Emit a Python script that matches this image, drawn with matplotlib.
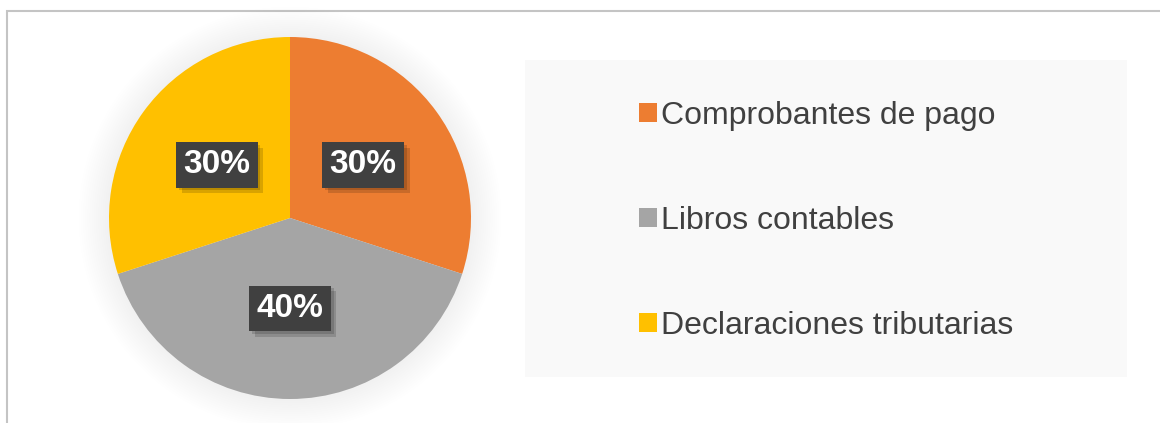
import matplotlib.pyplot as plt
import matplotlib.patheffects as pe
from matplotlib.patches import Circle, Rectangle

categories = ["Comprobantes de pago", "Libros contables", "Declaraciones tributarias"]
shares = [30, 40, 30]
colors = ["#ED7D31", "#A5A5A5", "#FFC000"]

W, H = 1160, 423
plt.rcParams["font.family"] = ["Liberation Sans", "DejaVu Sans"]

fig = plt.figure(figsize=(W / 100, H / 100), dpi=100)
fig.patch.set_facecolor("white")

# outer frame (only top and left edges are visible in the crop)
fig.add_artist(Rectangle((6.5 / W, -0.5), 2.0, (H - 10.5) / H + 0.5,
                         transform=fig.transFigure, fill=False,
                         edgecolor="#c4c4c4", linewidth=1.5, zorder=0))

# legend panel background
fig.add_artist(Rectangle((525 / W, (H - 377) / H), (1127 - 525) / W, (377 - 60) / H,
                         transform=fig.transFigure, facecolor="#f9f9f9",
                         edgecolor="none", zorder=0))

# pie axes: centre (290, 218) px, radius 181 px, limits +-1.25
cx, cy, r, lim = 290, 218, 181, 1.25
side = 2 * r * lim
ax = fig.add_axes([(cx - side / 2) / W, (H - cy - side / 2) / H, side / W, side / H])
ax.set_xlim(-lim, lim)
ax.set_ylim(-lim, lim)
ax.set_aspect("equal")
ax.axis("off")

# soft glow behind the pie
for i in range(14):
    ax.add_patch(Circle((0, 0), 1.0 + 0.012 * (i + 1), facecolor="black",
                        alpha=0.0055, edgecolor="none", zorder=0))

wedges, _, autotexts = ax.pie(
    shares, colors=colors, startangle=90, counterclock=False, radius=1.0,
    autopct="%1.0f%%", pctdistance=0.5,
    wedgeprops=dict(edgecolor="none", linewidth=0),
    textprops=dict(color="white", fontsize=24, fontweight="bold"),
)
for t in autotexts:
    t.set_bbox(dict(boxstyle="square,pad=0.22", facecolor="#404040", edgecolor="none"))
    t.get_bbox_patch().set_path_effects([
        pe.SimplePatchShadow(offset=(2, -2), shadow_rgbFace="black", alpha=0.15),
        pe.SimplePatchShadow(offset=(4, -4), shadow_rgbFace="black", alpha=0.15),
        pe.Normal(),
    ])

fig.legend(wedges, categories, loc="center left",
           bbox_to_anchor=(639 / W, (H - 221) / H), frameon=False,
           fontsize=23, labelcolor="#404040", labelspacing=2.35,
           handlelength=0.55, handleheight=0.55, handletextpad=0.15,
           borderpad=0, borderaxespad=0)

fig.savefig("out.png", dpi=100, facecolor="white")
